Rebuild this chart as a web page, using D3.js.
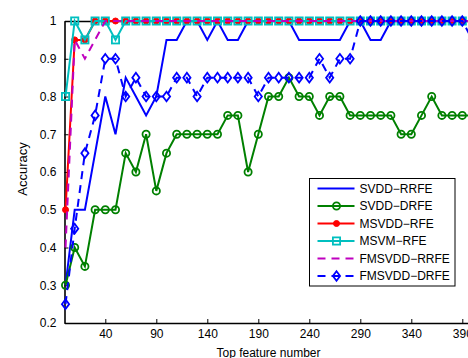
<!DOCTYPE html>
<html>
<head>
<meta charset="utf-8">
<script src="https://cdn.jsdelivr.net/npm/d3@7"></script>
<style>
  body { margin: 0; background: #fff; }
  svg { display: block; font-family: "Liberation Sans", Arial, sans-serif; }
</style>
</head>
<body>
<svg width="468" height="358"></svg>
<script>
// feature counts on the x axis
let featureNums = [1, 10, 20, 30, 40, 50, 60, 70, 80, 90, 100, 110, 120, 130, 140, 150, 160, 170, 180, 190,
  200, 210, 220, 230, 240, 250, 260, 270, 280, 290, 300, 310, 320, 330, 340, 350, 360, 370, 380, 390, 400];

let svddRRFE = [0.3, 0.5, 0.5, 0.65, 0.8, 0.7, 0.85, 0.8, 0.75, 0.8, 0.95, 0.95, 1, 1, 0.95, 1, 0.95, 0.95, 1, 1,
  1, 1, 1, 0.95, 0.95, 0.95, 0.95, 0.95, 1, 1, 0.95, 0.95, 1, 1, 1, 1, 1, 1, 1, 1, 1];
let svddDRFE = [0.3, 0.4, 0.35, 0.5, 0.5, 0.5, 0.65, 0.6, 0.7, 0.55, 0.65, 0.7, 0.7, 0.7, 0.7, 0.7, 0.75, 0.75, 0.6, 0.7,
  0.8, 0.8, 0.85, 0.8, 0.8, 0.75, 0.8, 0.8, 0.75, 0.75, 0.75, 0.75, 0.75, 0.7, 0.7, 0.75, 0.8, 0.75, 0.75, 0.75, 0.75];
let msvddRFE = [0.5, 0.95, 0.95, 1, 1, 1, 1, 1, 1, 1, 1, 1, 1, 1, 1, 1, 1, 1, 1, 1,
  1, 1, 1, 1, 1, 1, 1, 1, 1, 1, 1, 1, 1, 1, 1, 1, 1, 1, 1, 1, 1];
let msvmRFE = [0.8, 1, 0.95, 1, 1, 0.95, 1, 1, 1, 1, 1, 1, 1, 1, 1, 1, 1, 1, 1, 1,
  1, 1, 1, 1, 1, 1, 1, 1, 1, 1, 1, 1, 1, 1, 1, 1, 1, 1, 1, 1, 1];
let fmsvddRRFE = [0.4, 0.95, 0.9, 0.95, 1, 1, 1, 1, 1, 1, 1, 1, 1, 1, 1, 1, 1, 1, 1, 1,
  1, 1, 1, 1, 1, 1, 1, 1, 1, 1, 1, 1, 1, 1, 1, 1, 1, 1, 1, 1, 1];
let fmsvddDRFE = [0.25, 0.45, 0.65, 0.75, 0.9, 0.9, 0.8, 0.85, 0.8, 0.8, 0.8, 0.85, 0.85, 0.8, 0.85, 0.85, 0.85, 0.85, 0.85, 0.8,
  0.85, 0.85, 0.85, 0.85, 0.85, 0.9, 0.85, 0.9, 0.9, 1, 1, 1, 1, 1, 1, 1, 1, 1, 1, 1, 0.95];

let seriesNames = ['SVDD\u2212RRFE', 'SVDD\u2212DRFE', 'MSVDD\u2212RFE', 'MSVM\u2212RFE', 'FMSVDD\u2212RRFE', 'FMSVDD\u2212DRFE'];
let xTicks = [40, 90, 140, 190, 240, 290, 340, 390];
let yTicks = [0.2, 0.3, 0.4, 0.5, 0.6, 0.7, 0.8, 0.9, 1];

// style per series (matlab-ish)
let styles = [
  { color: '#0000ff', dash: null, marker: 'none' },
  { color: '#008000', dash: null, marker: 'circle' },
  { color: '#ff0000', dash: null, marker: 'dot' },
  { color: '#00bfbf', dash: null, marker: 'square' },
  { color: '#bf00bf', dash: '8,6', marker: 'none' },
  { color: '#0000ff', dash: '8,6', marker: 'diamond' }
];
let values = [svddRRFE, svddDRFE, msvddRFE, msvmRFE, fmsvddRRFE, fmsvddDRFE];

let series = seriesNames.map((name, i) => ({
  name: name,
  style: styles[i],
  points: featureNums.map((n, j) => ({ n: n, v: values[i][j] }))
}));

let svg = d3.select('svg');
let x = d3.scaleLinear().domain([0, 400]).range([64.5, 472.5]);
let y = d3.scaleLinear().domain([0.2, 1]).range([323, 21]);

let line = d3.line()
  .x(d => x(d.n))
  .y(d => y(d.v));

function drawMarker(sel, type, color) {
  if (type === 'circle') {
    sel.append('circle').attr('r', 3.6)
      .attr('fill', 'none').attr('stroke', color).attr('stroke-width', 1.8);
  } else if (type === 'dot') {
    sel.append('circle').attr('r', 3)
      .attr('fill', color).attr('stroke', color).attr('stroke-width', 1);
  } else if (type === 'square') {
    sel.append('rect').attr('x', -3.6).attr('y', -3.6).attr('width', 7.2).attr('height', 7.2)
      .attr('fill', 'none').attr('stroke', color).attr('stroke-width', 1.8);
  } else if (type === 'diamond') {
    sel.append('path').attr('d', 'M0,-4.8L3.6,0L0,4.8L-3.6,0Z')
      .attr('fill', 'none').attr('stroke', color).attr('stroke-width', 1.8);
  }
}

// axes box, ticks pointing inward
let fontSize = '12px';
let gx = svg.append('g').attr('transform', 'translate(0,' + y(0.2) + ')')
  .call(d3.axisBottom(x).tickValues(xTicks).tickSizeInner(-4).tickSizeOuter(0).tickPadding(6));
let gy = svg.append('g').attr('transform', 'translate(' + x(0) + ',0)')
  .call(d3.axisLeft(y).tickValues(yTicks).tickFormat(d3.format('~g')).tickSizeInner(-4).tickSizeOuter(0).tickPadding(8));
let gt = svg.append('g').attr('transform', 'translate(0,' + y(1) + ')')
  .call(d3.axisTop(x).tickValues(xTicks).tickFormat('').tickSizeInner(-4).tickSizeOuter(0));
let gr = svg.append('g').attr('transform', 'translate(' + x(400) + ',0)')
  .call(d3.axisRight(y).tickValues(yTicks).tickFormat('').tickSizeInner(-4).tickSizeOuter(0));

[gx, gy, gt, gr].forEach(g => {
  g.selectAll('.domain').attr('stroke', '#000').attr('stroke-width', 1.6);
  g.selectAll('.tick line').attr('stroke', '#000').attr('stroke-width', 1);
  g.selectAll('text').attr('fill', '#000').style('font-size', fontSize)
    .style('font-family', '"Liberation Sans", Arial, sans-serif');
});

// lines + markers, in legend order
series.forEach(s => {
  let g = svg.append('g');
  g.append('path')
    .attr('d', line(s.points))
    .attr('fill', 'none')
    .attr('stroke', s.style.color)
    .attr('stroke-width', 2)
    .attr('stroke-dasharray', s.style.dash);
  if (s.style.marker !== 'none') {
    g.selectAll('.m')
      .data(s.points)
      .enter().append('g')
      .attr('class', 'm')
      .attr('transform', d => `translate(${x(d.n)},${y(d.v)})`)
      .each(function() { drawMarker(d3.select(this), s.style.marker, s.style.color); });
  }
});

// axis labels
svg.append('text')
  .attr('x', (x(0) + x(400)) / 2)
  .attr('y', 357)
  .attr('text-anchor', 'middle')
  .style('font-size', '12px')
  .text('Top feature number');

svg.append('text')
  .attr('transform', 'translate(27,169) rotate(-90)')
  .attr('text-anchor', 'middle')
  .style('font-size', '13px')
  .text('Accuracy');

// legend
let legend = svg.append('g').attr('transform', 'translate(309.5,178.5)');
legend.append('rect')
  .attr('width', 145.5).attr('height', 107.5)
  .attr('fill', '#fff').attr('stroke', '#000').attr('stroke-width', 1);

let rows = legend.selectAll('.row')
  .data(series)
  .enter().append('g')
  .attr('class', 'row')
  .attr('transform', (d, i) => 'translate(0,' + (10 + i * 17.5) + ')');

rows.append('line')
  .attr('x1', 8).attr('x2', 45)
  .attr('stroke', d => d.style.color)
  .attr('stroke-width', 2)
  .attr('stroke-dasharray', d => d.style.dash);

rows.each(function(d) {
  let m = d3.select(this).append('g').attr('transform', 'translate(27,0)');
  drawMarker(m, d.style.marker, d.style.color);
});

rows.append('text')
  .attr('x', 50)
  .attr('dy', '0.35em')
  .style('font-size', '12px')
  .text(d => d.name);
</script>
</body>
</html>
